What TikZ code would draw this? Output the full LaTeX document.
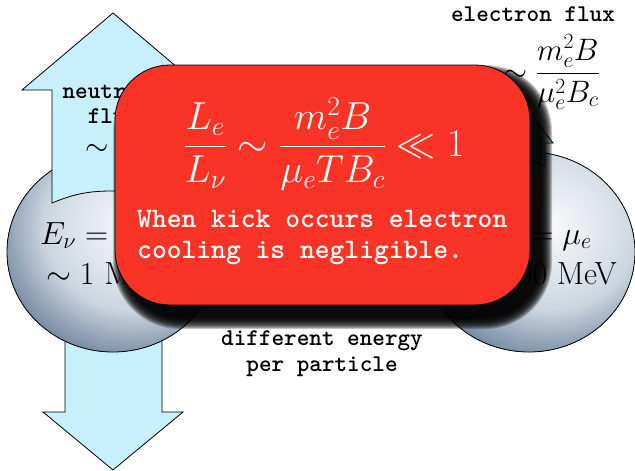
\RequirePackage{fix-cm}
\documentclass[tikz,border=0pt]{standalone}
\usepackage{fontspec}
\definecolor{boxred}{RGB}{249,52,38}
\definecolor{arrowcyan}{RGB}{199,239,252}
\definecolor{sphlight}{rgb}{0.98,0.985,0.99}
\definecolor{sphmid}{rgb}{0.80,0.84,0.88}
\definecolor{sphdark}{rgb}{0.36,0.45,0.56}
\newcommand{\mysphere}[3]{%
  \begin{scope}
    \clip (#1,#2) ellipse [x radius=106pt, y radius=100pt];
    \foreach \k in {60,...,1}{
      \pgfmathsetmacro{\dd}{\k*2.5}
      \pgfmathtruncatemacro{\pa}{min(100,100*\dd/85)}
      \pgfmathtruncatemacro{\pb}{max(0,min(100,100*(\dd-85)/65))}
      \colorlet{sphtmpa}{sphmid!\pa!sphlight}
      \colorlet{sphtmpb}{sphdark!\pb!sphtmpa}
      \fill[sphtmpb] ({#1+21},{#2-26}) ellipse [x radius={1.06*\dd pt}, y radius={\dd pt}];
    }
  \end{scope}
  \draw[sphereline] (#1,#2) ellipse [x radius=106pt, y radius=100pt];
  \coordinate (#3) at (#1,#2);
}
\begin{document}
\begin{tikzpicture}[x=1pt,y=-1pt,
  arrowshape/.style={draw=black, line width=0.8pt, fill=arrowcyan, line join=miter},
  sphereline/.style={draw=black, line width=0.8pt},
  monolbl/.style={font=\fontsize{24}{26}\selectfont\ttfamily\bfseries, inner sep=0pt},
  boxlbl/.style={font=\fontsize{28.2}{31}\selectfont\ttfamily\bfseries, text=white, inner sep=0pt},
  sphlbl/.style={font=\fontsize{32}{36}\selectfont, inner sep=0pt},
  shadowlayer/.style={fill=black, fill opacity=0.22},
  redbox/.style={draw=black, line width=0.8pt, fill=boxred, rounded corners=55pt,
    minimum width=415pt, minimum height=240pt, inner sep=0pt}]
\useasboundingbox (0,0) rectangle (635,471);
% down arrow (behind left sphere)
\draw[arrowshape] (65,300) -- (65,412) -- (43,412) -- (113,470) -- (183,412) -- (162,412) -- (162,300) -- cycle;
% spheres
\mysphere{113}{252}{leftsphere}
\mysphere{529}{252}{rightsphere}
% up arrow (in front of left sphere)
\draw[arrowshape] (113,13) -- (204,90) -- (174,90) -- (174,203)
  .. controls (150,193) and (135,191) .. (113,191)
  .. controls (91,191) and (76,193) .. (52,203) -- (52,90) -- (22,90) -- cycle;
% small arrow on right sphere
\draw[arrowshape] (529,112) -- (553,143) -- (545,143) -- (545,166)
  .. controls (537,162) and (533,161) .. (529,161)
  .. controls (525,161) and (521,162) .. (513,166) -- (513,143) -- (505,143) -- cycle;
% sphere labels
\node[sphlbl, anchor=base west] (enu) at (40,244) {$E_\nu =$};
\node[sphlbl, anchor=base west] (enuval) at (46,284) {$\sim 1$ MeV};
\node[sphlbl, anchor=base east] (ee) at (592,244) {$= \mu_e$};
\node[sphlbl, anchor=base east] (eeval) at (617,284) {$\sim 100$ MeV};
% neutrino flux
\node[monolbl, anchor=base] (nf1) at (113,98) {neutrino};
\node[monolbl, anchor=base] (nf2) at (113,123) {flux};
\node[font=\fontsize{30}{34}\selectfont, inner sep=0pt, anchor=base] (nf3) at (97,155) {$\sim$};
% electron flux
\node[monolbl, anchor=base] (ef1) at (533,21) {electron flux};
\node[font=\fontsize{31}{34}\selectfont, inner sep=0pt, anchor=base east] (ef2) at (600,81)
  {$\displaystyle \sim \frac{m_e^2 B}{\mu_e^2 B_c}$};
% different energy
\node[monolbl, anchor=base] (de1) at (322,345) {different energy};
\node[monolbl, anchor=base] (de2) at (322,371) {per particle};
% shadow of the red box
\foreach \r in {1,...,12}{
  \pgfmathsetmacro{\rc}{55+\r}
  \fill[shadowlayer, rounded corners=\rc pt] ({125-\r},{77-\r}) rectangle ({540+\r},{317+\r});
}
% red box
\node[redbox] (box) at (322.5,185) {};
\node[font=\fontsize{39}{42}\selectfont, text=white, inner sep=0pt, anchor=base] (formula) at (324,156)
  {$\displaystyle \frac{L_e}{L_\nu} \sim \frac{m_e^2 B}{\mu_e T B_c} \ll 1$};
\node[boxlbl, anchor=base west] (bt1) at (137,227) {When kick occurs electron};
\node[boxlbl, anchor=base west] (bt2) at (137,258) {cooling is negligible.};
\end{tikzpicture}
\end{document}
